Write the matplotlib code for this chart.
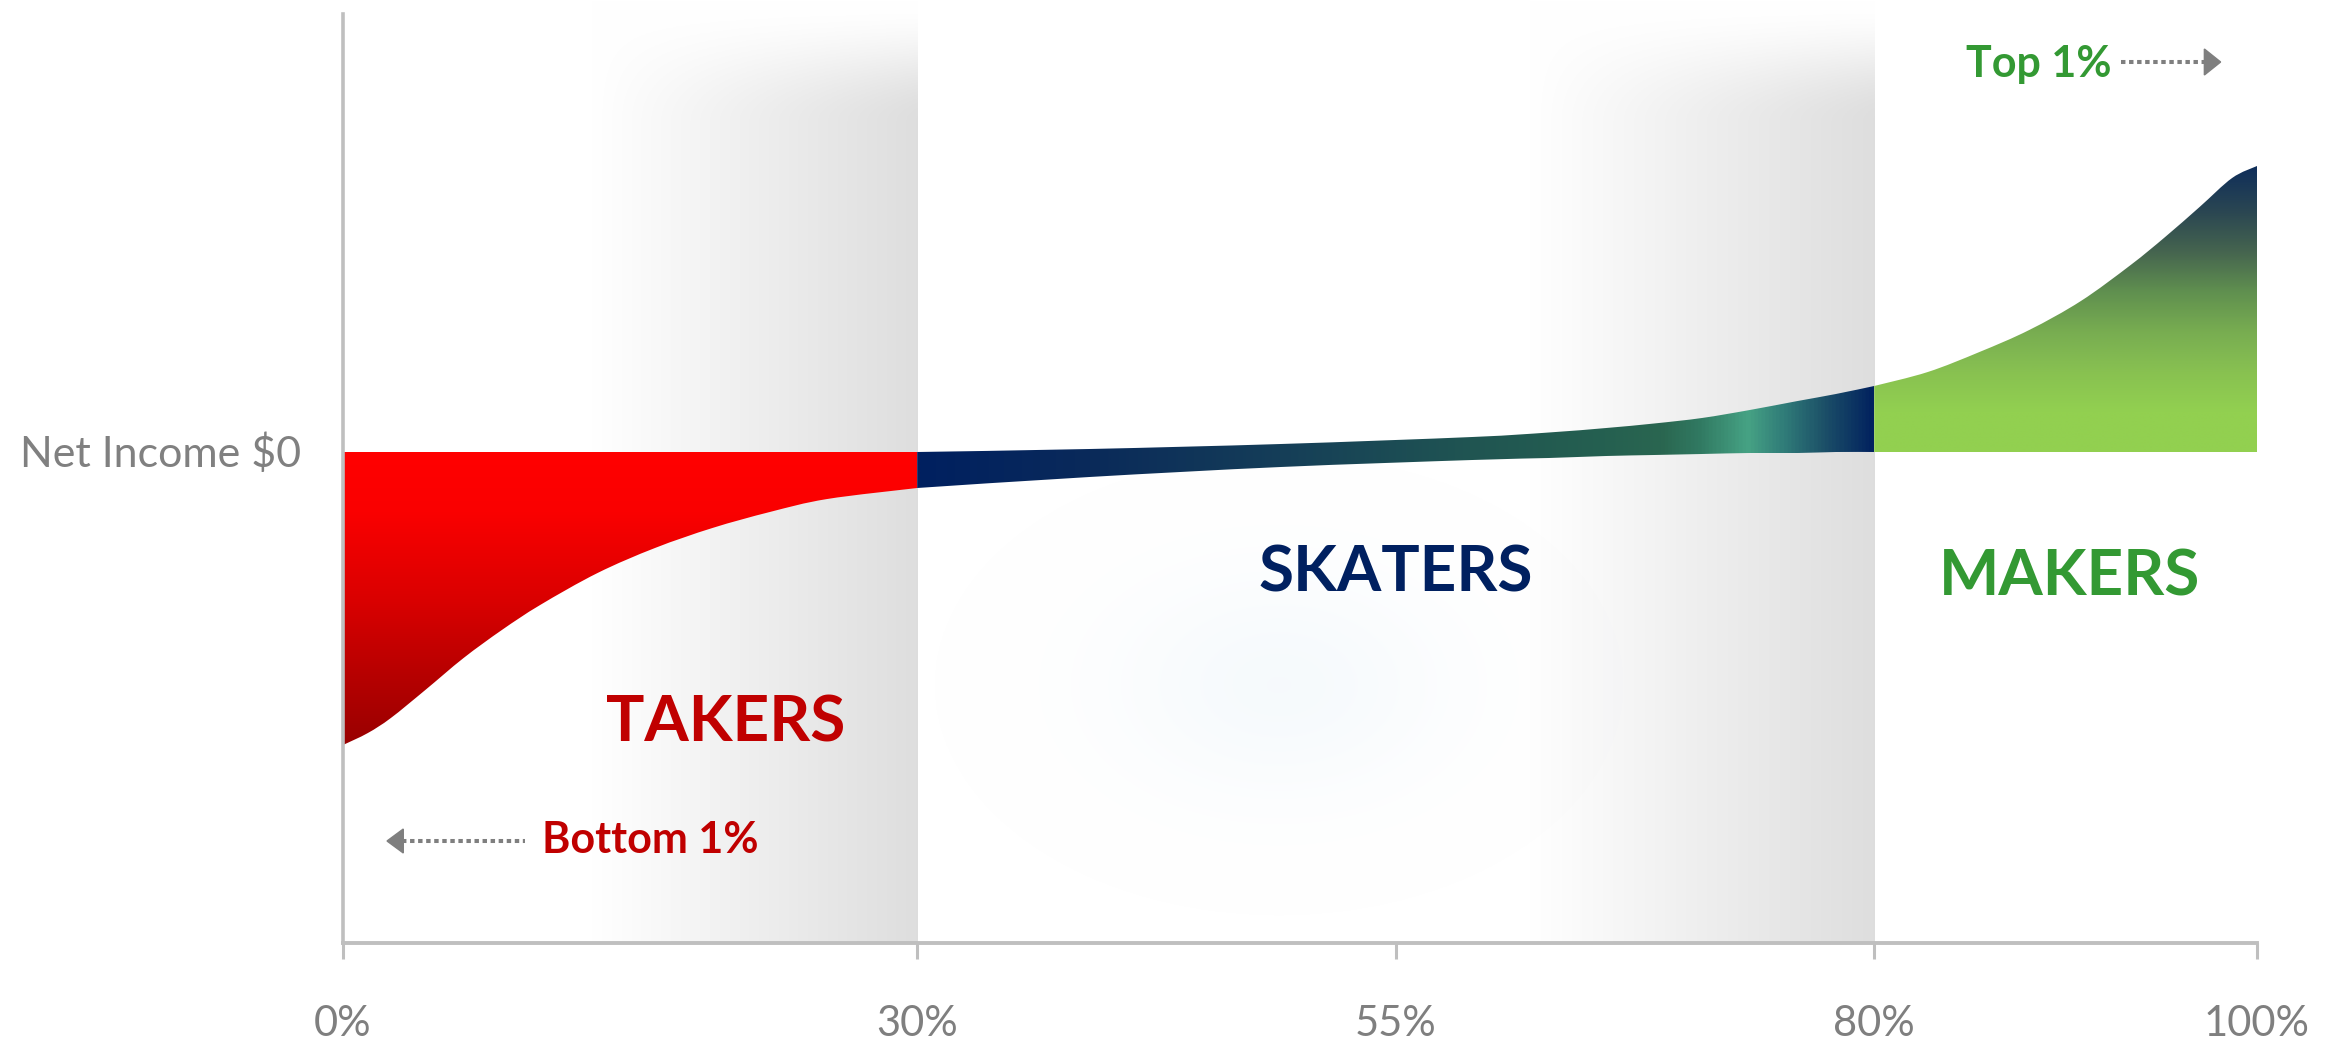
import numpy as np
from matplotlib import pyplot as plt
from matplotlib.patches import Polygon, PathPatch
from matplotlib.path import Path
from matplotlib.colors import LinearSegmentedColormap

plt.rcParams['font.family'] = ['Lato', 'DejaVu Sans']

#Percentile axis
tick_pos = [0, 30, 55, 80, 100]
tick_labels = ["0%", "30%", "55%", "80%", "100%"]

#Takers: net income below zero, bottom 30%
takers_x = [0, 1.3, 2.5, 4.3, 6.3, 8.3, 10.3, 13.3, 16.3, 19.3, 22.3, 25.3, 30]
takers_y = [-293, -281, -266, -238, -206, -178, -153, -121, -96, -76, -60, -47, -36]

#Skaters: thin band around zero, 30% to 80%
skaters_x = [30, 39, 49, 59, 63, 66, 68.5, 71, 73.5, 76, 78, 80]
skaters_top = [0, 3, 8, 15, 19.5, 24, 28.5, 34, 42, 51, 58, 66]
skaters_bottom = [-36, -25, -15, -8, -6, -4, -3, -2, -1, -1, 0, 0]

#Makers: top 20%
makers_x = [80, 82.8, 85.5, 88.1, 90.8, 93.4, 95.2, 97.0, 98.7, 100]
makers_y = [66, 80, 100, 122, 151, 187, 215, 245, 274, 286]

YMIN, YMAX = -491, 452

fig = plt.figure(figsize=(23.36, 10.49), dpi=100)
ax = fig.add_axes([343/2336, 106/1049, 1914/2336, 943/1049])


def smooth_segments(x, y):
    #Catmull-Rom through the read points, as cubic bezier pieces
    p = np.column_stack([x, y]).astype(float)
    ext = np.vstack([p[0], p, p[-1]])
    verts, codes = [], []
    for i in range(len(p) - 1):
        a, b, c, d = ext[i], ext[i + 1], ext[i + 2], ext[i + 3]
        verts += [b + (c - a) / 6.0, c - (d - b) / 6.0, c]
        codes += [Path.CURVE4] * 3
    return p, verts, codes


def area_path(x, y_low, y_high):
    p_hi, v_hi, c_hi = smooth_segments(x, y_high)
    p_lo, v_lo, c_lo = smooth_segments(x[::-1], y_low[::-1])
    verts = [p_hi[0]] + v_hi + [p_lo[0]] + v_lo + [p_hi[0]]
    codes = [Path.MOVETO] + c_hi + [Path.LINETO] + c_lo + [Path.CLOSEPOLY]
    return Path(verts, codes)


def stops_cmap(stops, lo, hi):
    #stops given as (value, color), rescaled to 0..1
    return LinearSegmentedColormap.from_list(
        "g", [((v - lo) / (hi - lo), c) for v, c in stops])


def gradient_area(x, y1, y2, stops, vertical, z):
    x = np.asarray(x, float)
    y1 = np.asarray(y1, float)
    y2 = np.asarray(y2, float)
    patch = PathPatch(area_path(x, y1, y2), facecolor='none', edgecolor='none')
    ax.add_patch(patch)
    x0, x1 = x.min(), x.max()
    y0, y1_ = min(y1.min(), y2.min()) - 2, max(y1.max(), y2.max()) + 2
    lo, hi = stops[0][0], stops[-1][0]
    if vertical:
        vals = np.linspace(y0, y1_, 500)[:, None]
    else:
        vals = np.linspace(x0, x1, 800)[None, :]
    cmap = stops_cmap(stops, lo, hi)
    im = ax.imshow(np.clip((vals - lo) / (hi - lo), 0, 1), cmap=cmap, vmin=0, vmax=1,
                   extent=[x0, x1, y0, y1_], origin='lower', aspect='auto', zorder=z,
                   interpolation='bilinear')
    im.set_clip_path(patch)


#Grey background shading leading up to each boundary
def shade(xa, xb, dark=0.13):
    xs = np.linspace(xa, xb, 400)
    ys = np.linspace(YMIN, YMAX, 400)
    X, Y = np.meshgrid(xs, ys)
    t = (X - xa) / (xb - xa)
    v = np.clip((YMAX - Y) / 120.0, 0, 1)
    v = v * v * (3 - 2 * v)
    g = 1 - dark * t * v
    rgb = np.dstack([g, g, g])
    ax.imshow(rgb, extent=[xa, xb, YMIN, YMAX], origin='lower', aspect='auto', zorder=0)


shade(13, 30)
shade(62, 80)

#Faint blue glow behind SKATERS
gx = np.linspace(30, 68, 500)
gy = np.linspace(-480, 20, 400)
GX, GY = np.meshgrid(gx, gy)
r2 = ((GX - 48.9) / 15.6) ** 2 + ((GY + 233) / 200.0) ** 2
glow = np.zeros(GX.shape + (4,))
glow[..., 0], glow[..., 1], glow[..., 2] = 0.88, 0.93, 0.97
glow[..., 3] = 0.28 * np.exp(-3.2 * r2)
ax.imshow(glow, extent=[30, 68, -480, 20], origin='lower', aspect='auto', zorder=0.5)

#Areas
zero_t = np.zeros(len(takers_x))
gradient_area(takers_x, takers_y, zero_t,
              [(-293, '#990000'), (-220, '#b80000'), (-150, '#d90000'),
               (-60, '#fa0000'), (0, '#ff0000')], True, 2)

gradient_area(skaters_x, skaters_bottom, skaters_top,
              [(30, '#002060'), (39, '#0a2a5a'), (49, '#153e58'), (59, '#205552'),
               (66, '#256050'), (69, '#2a6650'), (71, '#317a62'), (73.5, '#46a284'),
               (75.5, '#2f7a78'), (77.5, '#1c5068'), (80, '#02235f')], False, 2)

zero_m = np.zeros(len(makers_x))
gradient_area(makers_x, zero_m, makers_y,
              [(0, '#92d050'), (40, '#92d050'), (80, '#88c151'), (120, '#78ad51'),
               (160, '#60904f'), (200, '#46654f'), (240, '#2b4752'), (286, '#0f2e5a')], True, 2)

#Labels
ax.text(-2.2, -15, "Net Income $0", ha='right', va='baseline', fontsize=31, color='#808080')
ax.text(20, -290, "TAKERS", ha='center', va='baseline', fontsize=46, fontweight='bold', color='#c00000')
ax.text(55, -139, "SKATERS", ha='center', va='baseline', fontsize=46, fontweight='bold', color='#002060')
ax.text(90.2, -143, "MAKERS", ha='center', va='baseline', fontsize=46, fontweight='bold', color='#339933')
ax.text(10.4, -401, "Bottom 1%", ha='left', va='baseline', fontsize=31, fontweight='bold', color='#c00000')
ax.text(84.8, 375, "Top 1%", ha='left', va='baseline', fontsize=31, fontweight='bold', color='#339933')

#Dotted arrows
ax.plot([3.1, 9.5], [-389, -389], color='#7f7f7f', lw=2.9, linestyle=(0, (1.1, 0.9)), zorder=3)
ax.add_patch(Polygon([[2.3, -389], [3.15, -377], [3.15, -401]], closed=True, color='#7f7f7f', zorder=3))
ax.plot([92.9, 97.3], [390, 390], color='#7f7f7f', lw=2.9, linestyle=(0, (1.1, 0.9)), zorder=3)
ax.add_patch(Polygon([[98.1, 390], [97.25, 403], [97.25, 377]], closed=True, color='#7f7f7f', zorder=3))

#Axis styling
ax.set_xlim(0, 100)
ax.set_ylim(YMIN, YMAX)
ax.set_xticks(tick_pos)
ax.set_xticklabels(tick_labels, fontsize=30, color='#7f7f7f')
ax.tick_params(axis='x', direction='out', length=11.5, width=2.2, color='#bfbfbf', pad=33)
ax.set_yticks([])
ax.spines['right'].set_visible(False)
ax.spines['top'].set_visible(False)
ax.spines['left'].set_color('#bfbfbf')
ax.spines['left'].set_linewidth(2.6)
ax.spines['left'].set_bounds(YMIN, 438)
ax.spines['bottom'].set_color('#bfbfbf')
ax.spines['bottom'].set_linewidth(2.8)
ax.set_facecolor('white')

plt.savefig("out.png", dpi=100)
plt.close()
